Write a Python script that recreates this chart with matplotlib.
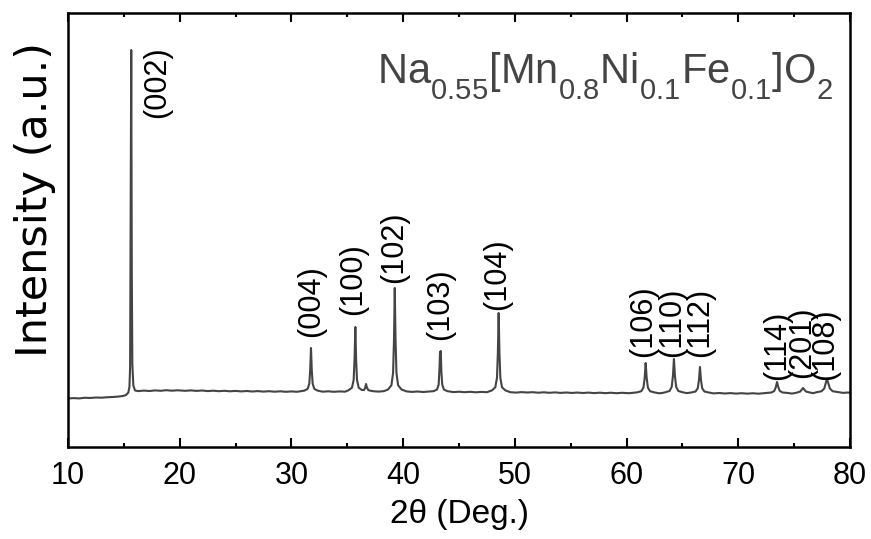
import matplotlib
matplotlib.use("Agg")
import matplotlib.pyplot as plt
from matplotlib.ticker import MultipleLocator

# XRD pattern (2theta in degrees, intensity in counts)
two_theta = [
    10.0, 10.5, 11.0, 11.5, 12.0, 12.5, 13.0, 13.5, 14.0, 14.5, 14.9, 15.2, 15.4,
    15.5, 15.56, 15.6, 15.66, 15.71, 15.76, 15.85, 16.0, 16.3, 16.8, 17.3, 17.8,
    18.3, 18.8, 19.3, 19.8, 20.5, 21.0, 21.5, 22.0, 22.5, 23.0, 23.5, 24.0, 24.5,
    25.0, 25.5, 26.0, 26.5, 27.0, 27.5, 28.0, 28.5, 29.0, 29.5, 30.0, 30.5,
    31.15, 31.45, 31.6, 31.68, 31.75, 31.82, 31.9, 32.05, 32.35,
    32.8, 33.3, 33.8, 34.3, 34.8,
    35.12, 35.42, 35.57, 35.65, 35.72, 35.79, 35.87, 36.02, 36.3,
    36.5, 36.6, 36.68, 36.76, 36.9, 37.3, 37.8, 38.3,
    38.65, 38.95, 39.1, 39.18, 39.25, 39.32, 39.4, 39.55, 39.85,
    40.3, 40.8, 41.3, 41.8, 42.3,
    42.73, 43.03, 43.18, 43.26, 43.3, 43.33, 43.37, 43.42, 43.5, 43.65, 43.95,
    44.5, 45.0, 45.5, 46.0, 46.5, 47.0, 47.5,
    47.95, 48.25, 48.4, 48.48, 48.55, 48.62, 48.7, 48.85, 49.15,
    49.6, 50.1, 50.6, 51.1, 51.6, 52.1, 52.6, 53.1, 53.6, 54.1, 54.6, 55.1, 55.6,
    56.1, 56.6, 57.1, 57.6, 58.1, 58.6, 59.1, 59.6, 60.2,
    60.93, 61.32, 61.51, 61.62, 61.71, 61.8, 61.91, 62.1, 62.49,
    62.9, 63.2,
    63.46, 63.85, 64.04, 64.15, 64.24, 64.33, 64.44, 64.63, 65.02,
    65.4,
    65.79, 66.18, 66.37, 66.48, 66.57, 66.66, 66.77, 66.96, 67.35,
    67.8, 68.3, 68.8, 69.3, 69.8, 70.3, 70.8, 71.3, 71.8, 72.2,
    72.47, 72.97, 73.22, 73.35, 73.47, 73.59, 73.72, 73.97, 74.47,
    74.8, 75.2, 75.55, 75.8, 76.05, 76.4, 76.7,
    77.0, 77.45, 77.7, 77.82, 77.94, 78.06, 78.2, 78.45, 79.0,
    79.4, 79.8, 80.0,
]
intensity = [
    970, 978, 972, 985, 980, 990, 986, 995, 1000, 1008, 1020, 1040, 1090,
    1200, 1600, 4280, 7940, 3500, 1650, 1230, 1130, 1118, 1128, 1120, 1132,
    1124, 1136, 1126, 1134, 1124, 1132, 1122, 1130, 1118, 1126, 1116, 1124, 1114,
    1122, 1112, 1120, 1110, 1118, 1108, 1116, 1106, 1114, 1104, 1112, 1104,
    1127, 1162, 1267, 1545, 1980, 1545, 1267, 1162, 1127,
    1106, 1114, 1104, 1112, 1106,
    1136, 1187, 1342, 1755, 2400, 1755, 1342, 1187, 1140,
    1140, 1185, 1260, 1185, 1135, 1116, 1108, 1118,
    1151, 1234, 1483, 2145, 3180, 2145, 1483, 1234, 1151,
    1112, 1102, 1110, 1100, 1108,
    1117, 1149, 1248, 1600, 1900, 1860, 1920, 1510, 1248, 1149, 1117,
    1098, 1106, 1096, 1104, 1094, 1102, 1096,
    1132, 1195, 1384, 1890, 2680, 1890, 1384, 1195, 1132,
    1096, 1088, 1098, 1090, 1096, 1086, 1094, 1084, 1092, 1082, 1090, 1081, 1089,
    1080, 1088, 1078, 1086, 1077, 1085, 1076, 1084, 1076,
    1092, 1116, 1188, 1380, 1680, 1380, 1188, 1116, 1092,
    1074, 1081,
    1094, 1121, 1202, 1420, 1760, 1420, 1202, 1121, 1094,
    1078,
    1090, 1111, 1174, 1340, 1600, 1340, 1174, 1111, 1090,
    1072, 1080, 1070, 1078, 1068, 1076, 1067, 1075, 1066, 1074,
    1080, 1090, 1120, 1190, 1300, 1190, 1120, 1090, 1080,
    1068, 1085, 1110, 1180, 1110, 1090, 1076,
    1095, 1115, 1170, 1270, 1360, 1270, 1170, 1115, 1095,
    1082, 1090, 1086,
]

# peak indices and where their labels sit
hkl = ["(002)", "(004)", "(100)", "(102)", "(103)", "(104)",
       "(106)", "(110)", "(112)", "(114)", "(201)", "(108)"]
label_x = [18.0, 31.75, 35.5, 39.2, 43.3, 48.4, 61.5, 64.1, 66.6, 73.5, 75.7, 77.8]
label_y = [6580, 2200, 2640, 3280, 2140, 2740, 1800, 1800, 1800, 1340, 1380, 1340]

formula = "Na$_{0.55}$[Mn$_{0.8}$Ni$_{0.1}$Fe$_{0.1}$]O$_2$"

plt.rcParams["font.family"] = ["Liberation Sans", "DejaVu Sans"]
plt.rcParams["mathtext.default"] = "regular"
# subscripts in the original sit lower than mathtext's default
try:
    from matplotlib import _mathtext
    _mathtext.FontConstantsBase.sub1 = 0.7
    _mathtext.FontConstantsBase.subdrop = 0.7
except Exception:
    pass

fig = plt.figure(figsize=(8.71, 5.39), dpi=100)
ax = fig.add_axes([68 / 871, 1 - 447 / 539, 782 / 871, 434 / 539])

ax.plot(two_theta, intensity, color="#444444", lw=1.5)

for name, lx, ly in zip(hkl, label_x, label_y):
    ax.text(lx, ly, name, rotation=90, ha="center", va="bottom",
            fontsize=22, color="black")

ax.text(0.978, 0.836, formula, transform=ax.transAxes, ha="right",
        va="baseline", fontsize=30, color="#444444")

ax.set_xlim(10, 80)
ax.set_ylim(0, 8680)
ax.xaxis.set_major_locator(MultipleLocator(10))
ax.xaxis.set_minor_locator(MultipleLocator(5))
ax.set_yticks([])
ax.tick_params(axis="x", which="both", direction="in", top=True, width=1.5,
               pad=10, labelsize=22)
ax.tick_params(axis="x", which="major", length=6.5)
ax.tick_params(axis="x", which="minor", length=3.2)
for sp in ax.spines.values():
    sp.set_linewidth(1.8)

ax.set_xlabel("2θ (Deg.)", fontsize=24, labelpad=6)
ax.set_ylabel("Intensity (a.u.)", fontsize=31, family="DejaVu Sans")
ax.yaxis.set_label_coords(-0.015, 0.571)

fig.savefig("out.png", dpi=100)
